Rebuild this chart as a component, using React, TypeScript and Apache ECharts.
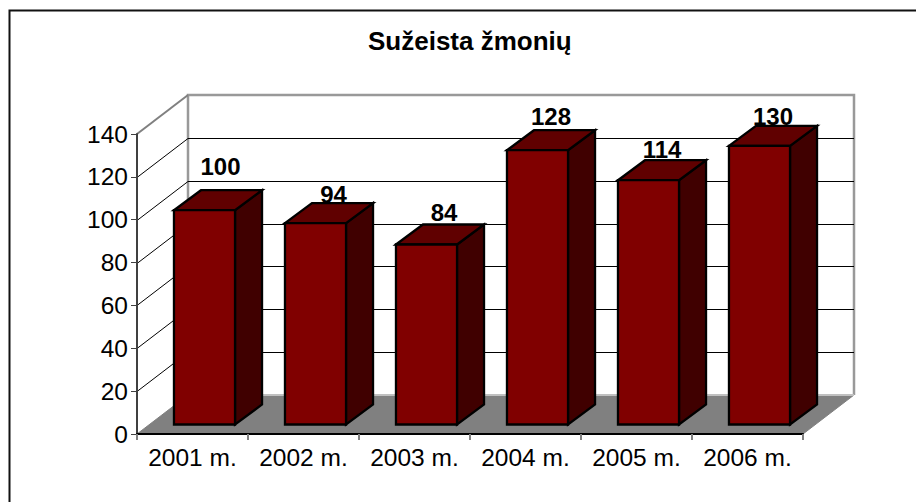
import React, { useEffect, useRef } from "react";
import * as echarts from "echarts";

const title = "Sužeista žmonių";
const categories = ["2001 m.", "2002 m.", "2003 m.", "2004 m.", "2005 m.", "2006 m."];
const injured = [100, 94, 84, 128, 114, 130];
const yTicks = [0, 20, 40, 60, 80, 100, 120, 140];

// Presentation only: the projection of the 3D box and the hand-placed label nudges.
const WALL_DX = 51;
const WALL_DY = -39;
const BAR_FRONT_DX = 12;
const BAR_FRONT_DY = -9.5;
const BAR_DEPTH_DX = 27;
const BAR_DEPTH_DY = -20;
const BAR_RATIO = 0.55;
const labelShiftX = [16, 18, 17.5, 13.5, 13.5, 13.5];
const labelLift = [24, 9, 12, 14, 10.5, 9];

const FONT = '"Liberation Sans", Arial, sans-serif';

export default function App() {
  const ref = useRef<HTMLDivElement>(null);
  useEffect(() => {
    const chart = echarts.init(ref.current!, undefined, { renderer: "svg" });

    const renderFloor = (_p: any, api: any) => {
      const [x0, y0] = api.coord([0, 0]);
      const w = api.size([1, 0])[0] * categories.length;
      const x = x0 - api.size([1, 0])[0] / 2;
      const yTop = api.coord([0, yTicks[yTicks.length - 1]])[1];
      const b = WALL_DX;
      const d = WALL_DY;
      const grey = "#999999";
      return {
        type: "group",
        children: [
          {
            type: "polygon",
            shape: { points: [[x, y0], [x + w, y0], [x + w + b, y0 + d], [x + b, y0 + d]] },
            style: { fill: "#808080", stroke: "#808080", lineWidth: 1 },
          },
          {
            type: "polyline",
            shape: { points: [[x + b, y0 + d], [x + b, yTop + d], [x + w + b, yTop + d], [x + w + b, y0 + d]] },
            style: { fill: "none", stroke: grey, lineWidth: 2.5 },
          },
          {
            type: "line",
            shape: { x1: x, y1: yTop, x2: x + b, y2: yTop + d },
            style: { stroke: "#808080", lineWidth: 2 },
          },
          {
            type: "line",
            shape: { x1: x + b, y1: y0 + d, x2: x + w + b, y2: y0 + d },
            style: { stroke: "#c0c0c0", lineWidth: 2 },
          },
        ],
      };
    };

    const renderGrid = (_p: any, api: any) => {
      const v = api.value(0);
      const unit = api.size([1, 0])[0];
      const x = api.coord([0, 0])[0] - unit / 2;
      const y = Math.round(api.coord([0, v])[1]) + 0.5;
      const w = unit * categories.length;
      return {
        type: "polyline",
        shape: { points: [[x, y], [x + WALL_DX, y + WALL_DY], [x + WALL_DX + w, y + WALL_DY]] },
        style: { fill: "none", stroke: "#000000", lineWidth: 1 },
      };
    };

    const renderBar = (p: any, api: any) => {
      const i = api.value(0);
      const v = api.value(1);
      const [cx, yTop] = api.coord([i, v]);
      const [, yBase] = api.coord([i, 0]);
      const bw = api.size([1, 0])[0] * BAR_RATIO;
      const l = cx + BAR_FRONT_DX - bw / 2;
      const r = l + bw;
      const t = yTop + BAR_FRONT_DY;
      const b = yBase + BAR_FRONT_DY;
      const dx = BAR_DEPTH_DX;
      const dy = BAR_DEPTH_DY;
      const edge = { stroke: "#000000", lineWidth: 2.3, lineJoin: "miter" };
      return {
        type: "group",
        children: [
          {
            type: "polygon",
            shape: { points: [[r, t], [r + dx, t + dy], [r + dx, b + dy], [r, b]] },
            style: { fill: "#400000", ...edge },
          },
          {
            type: "polygon",
            shape: { points: [[l, t], [l + dx, t + dy], [r + dx, t + dy], [r, t]] },
            style: { fill: "#600000", ...edge },
          },
          {
            type: "rect",
            shape: { x: l, y: t, width: bw, height: b - t },
            style: { fill: "#800000", ...edge },
          },
          {
            type: "text",
            x: cx + BAR_FRONT_DX + labelShiftX[p.dataIndex],
            y: t + dy - labelLift[p.dataIndex],
            style: {
              text: String(v),
              fill: "#000000",
              font: `bold 24px ${FONT}`,
              textAlign: "center",
              textVerticalAlign: "middle",
            },
          },
        ],
      };
    };

    chart.setOption({
      animation: false,
      backgroundColor: "#ffffff",
      title: {
        text: title,
        left: 363,
        top: 23,
        textStyle: { fontFamily: FONT, fontWeight: "bold", fontSize: 26, color: "#000000" },
      },
      grid: { left: 137, right: 113, top: 134, bottom: 68, containLabel: false },
      xAxis: {
        type: "category",
        data: categories,
        z: 5,
        axisLine: { show: true, lineStyle: { color: "#000000", width: 2 } },
        axisTick: { show: true, length: 6, alignWithLabel: false, lineStyle: { color: "#808080", width: 2 } },
        axisLabel: { fontFamily: FONT, fontSize: 24.5, color: "#000000", margin: 11, interval: 0 },
      },
      yAxis: {
        type: "value",
        min: 0,
        max: 140,
        interval: 20,
        z: 5,
        axisLine: { show: true, lineStyle: { color: "#404040", width: 2 } },
        axisTick: { show: true, length: 6, lineStyle: { color: "#404040", width: 1 } },
        axisLabel: { fontFamily: FONT, fontSize: 24.5, color: "#000000", margin: 9 },
        splitLine: { show: false },
      },
      graphic: [
        {
          type: "polyline",
          silent: true,
          shape: { points: [[9.5, 502], [9.5, 10.5], [916, 10.5]] },
          style: { fill: "none", stroke: "#111111", lineWidth: 2 },
        },
      ],
      series: [
        { type: "custom", name: "floor", coordinateSystem: "cartesian2d", z: 1, silent: true, renderItem: renderFloor, data: [[0]], encode: { x: 0 } },
        { type: "custom", name: "grid", coordinateSystem: "cartesian2d", z: 1.5, silent: true, renderItem: renderGrid, data: yTicks.slice(1, -1).map((v) => [v]), encode: { y: 0 } },
        { type: "custom", name: "Sužeista žmonių", coordinateSystem: "cartesian2d", z: 2, silent: true, renderItem: renderBar, data: injured.map((v, i) => [i, v]), encode: { x: 0, y: 1 } },
      ],
    });
    return () => chart.dispose();
  }, []);
  return <div ref={ref} style={{ position: "absolute", left: 0, top: 0, width: 916, height: 502 }} />;
}
